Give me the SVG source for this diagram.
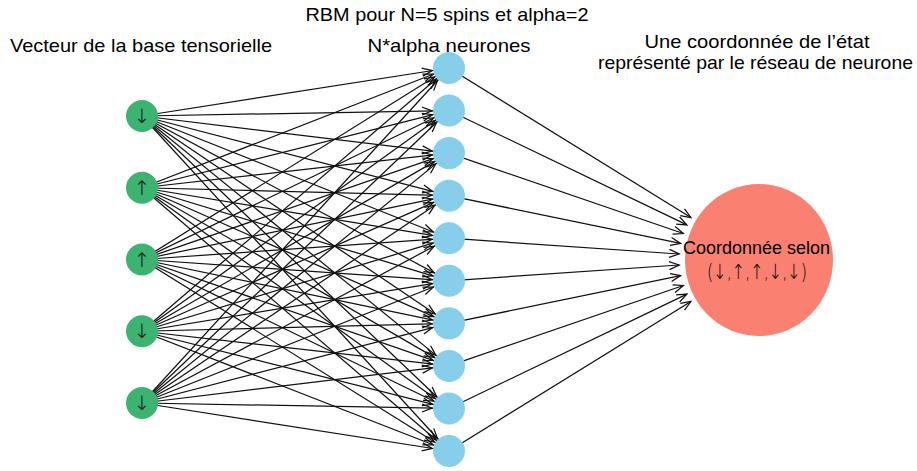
<svg xmlns="http://www.w3.org/2000/svg" width="917" height="471" viewBox="0 0 917 471">
<style>
.t{font-family:"Liberation Sans","DejaVu Sans",sans-serif;font-size:19px;fill:#000;text-anchor:middle}
.e{stroke:#111;stroke-width:1.25;fill:none}
.g{fill:#3cb371}
.b{fill:#87ceeb}
.r{fill:#fa8072}
.s{font-family:"DejaVu Sans",sans-serif;font-size:20px;font-weight:200;fill:#111;text-anchor:middle}
</style>
<defs>
<marker id="ab" markerUnits="userSpaceOnUse" orient="auto" refX="17" refY="0" markerWidth="20" markerHeight="10" overflow="visible">
<path d="M-10,-4 L0,0 L-10,4" fill="none" stroke="#111" stroke-width="1.25"/>
</marker>
<marker id="ar" markerUnits="userSpaceOnUse" orient="auto" refX="0" refY="0" markerWidth="20" markerHeight="10" overflow="visible">
<path d="M-10,-4 L0,0 L-10,4" fill="none" stroke="#111" stroke-width="1.25"/>
</marker>
</defs>
<rect width="917" height="471" fill="#fff"/>
<text class="t" x="447" y="21" textLength="283" lengthAdjust="spacingAndGlyphs">RBM pour N=5 spins et alpha=2</text>
<text class="t" x="141" y="52" textLength="262" lengthAdjust="spacingAndGlyphs">Vecteur de la base tensorielle</text>
<text class="t" x="449" y="52" textLength="163" lengthAdjust="spacingAndGlyphs">N*alpha neurones</text>
<text class="t" x="757" y="48" textLength="225" lengthAdjust="spacingAndGlyphs">Une coordonnée de l’état</text>
<text class="t" x="755.5" y="69" textLength="315" lengthAdjust="spacingAndGlyphs">représenté par le réseau de neurone</text>
<g id="connectors" class="e" marker-end="url(#ab)">
<line x1="142" y1="116" x2="449" y2="68"/><line x1="142" y1="116" x2="449" y2="110.56"/><line x1="142" y1="116" x2="449" y2="153.11"/><line x1="142" y1="116" x2="449" y2="195.67"/><line x1="142" y1="116" x2="449" y2="238.22"/><line x1="142" y1="116" x2="449" y2="280.78"/><line x1="142" y1="116" x2="449" y2="323.33"/><line x1="142" y1="116" x2="449" y2="365.89"/><line x1="142" y1="116" x2="449" y2="408.44"/><line x1="142" y1="116" x2="449" y2="451"/>
<line x1="142" y1="187.75" x2="449" y2="68"/><line x1="142" y1="187.75" x2="449" y2="110.56"/><line x1="142" y1="187.75" x2="449" y2="153.11"/><line x1="142" y1="187.75" x2="449" y2="195.67"/><line x1="142" y1="187.75" x2="449" y2="238.22"/><line x1="142" y1="187.75" x2="449" y2="280.78"/><line x1="142" y1="187.75" x2="449" y2="323.33"/><line x1="142" y1="187.75" x2="449" y2="365.89"/><line x1="142" y1="187.75" x2="449" y2="408.44"/><line x1="142" y1="187.75" x2="449" y2="451"/>
<line x1="142" y1="259.5" x2="449" y2="68"/><line x1="142" y1="259.5" x2="449" y2="110.56"/><line x1="142" y1="259.5" x2="449" y2="153.11"/><line x1="142" y1="259.5" x2="449" y2="195.67"/><line x1="142" y1="259.5" x2="449" y2="238.22"/><line x1="142" y1="259.5" x2="449" y2="280.78"/><line x1="142" y1="259.5" x2="449" y2="323.33"/><line x1="142" y1="259.5" x2="449" y2="365.89"/><line x1="142" y1="259.5" x2="449" y2="408.44"/><line x1="142" y1="259.5" x2="449" y2="451"/>
<line x1="142" y1="331.25" x2="449" y2="68"/><line x1="142" y1="331.25" x2="449" y2="110.56"/><line x1="142" y1="331.25" x2="449" y2="153.11"/><line x1="142" y1="331.25" x2="449" y2="195.67"/><line x1="142" y1="331.25" x2="449" y2="238.22"/><line x1="142" y1="331.25" x2="449" y2="280.78"/><line x1="142" y1="331.25" x2="449" y2="323.33"/><line x1="142" y1="331.25" x2="449" y2="365.89"/><line x1="142" y1="331.25" x2="449" y2="408.44"/><line x1="142" y1="331.25" x2="449" y2="451"/>
<line x1="142" y1="403" x2="449" y2="68"/><line x1="142" y1="403" x2="449" y2="110.56"/><line x1="142" y1="403" x2="449" y2="153.11"/><line x1="142" y1="403" x2="449" y2="195.67"/><line x1="142" y1="403" x2="449" y2="238.22"/><line x1="142" y1="403" x2="449" y2="280.78"/><line x1="142" y1="403" x2="449" y2="323.33"/><line x1="142" y1="403" x2="449" y2="365.89"/><line x1="142" y1="403" x2="449" y2="408.44"/><line x1="142" y1="403" x2="449" y2="451"/>
<g marker-end="url(#ar)">
<line x1="449" y1="68" x2="690.9" y2="217.5"/><line x1="449" y1="110.56" x2="686.9" y2="224.9"/><line x1="449" y1="153.11" x2="683.3" y2="233.5"/><line x1="449" y1="195.67" x2="680.6" y2="243.4"/><line x1="449" y1="238.22" x2="679.2" y2="254"/><line x1="449" y1="280.78" x2="679.2" y2="265"/><line x1="449" y1="323.33" x2="680.6" y2="275.6"/><line x1="449" y1="365.89" x2="683.3" y2="285.5"/><line x1="449" y1="408.44" x2="686.9" y2="294.1"/><line x1="449" y1="451" x2="690.9" y2="301.5"/>
</g>
</g>
<g id="s0"><circle class="g" cx="142" cy="116" r="16"/><text class="s" x="142" y="123">↓</text></g>
<g id="s1"><circle class="g" cx="142" cy="187.75" r="16"/><text class="s" x="142" y="194.75">↑</text></g>
<g id="s2"><circle class="g" cx="142" cy="259.5" r="16"/><text class="s" x="142" y="266.5">↑</text></g>
<g id="s3"><circle class="g" cx="142" cy="331.25" r="16"/><text class="s" x="142" y="338.25">↓</text></g>
<g id="s4"><circle class="g" cx="142" cy="403" r="16"/><text class="s" x="142" y="410">↓</text></g>
<g id="h0"><circle class="b" cx="449" cy="68" r="16"/></g>
<g id="h1"><circle class="b" cx="449" cy="110.56" r="16"/></g>
<g id="h2"><circle class="b" cx="449" cy="153.11" r="16"/></g>
<g id="h3"><circle class="b" cx="449" cy="195.67" r="16"/></g>
<g id="h4"><circle class="b" cx="449" cy="238.22" r="16"/></g>
<g id="h5"><circle class="b" cx="449" cy="280.78" r="16"/></g>
<g id="h6"><circle class="b" cx="449" cy="323.33" r="16"/></g>
<g id="h7"><circle class="b" cx="449" cy="365.89" r="16"/></g>
<g id="h8"><circle class="b" cx="449" cy="408.44" r="16"/></g>
<g id="h9"><circle class="b" cx="449" cy="451" r="16"/></g>
<g id="out"><ellipse class="r" cx="759" cy="260" rx="74" ry="76"/>
<text class="t" x="756.5" y="254" textLength="147" lengthAdjust="spacingAndGlyphs">Coordonnée selon</text>
<text class="t" x="757" y="279" textLength="100" lengthAdjust="spacingAndGlyphs" style="font-family:'DejaVu Sans',sans-serif;font-weight:200;font-size:21px">(↓,↑,↑,↓,↓)</text></g>
</svg>
